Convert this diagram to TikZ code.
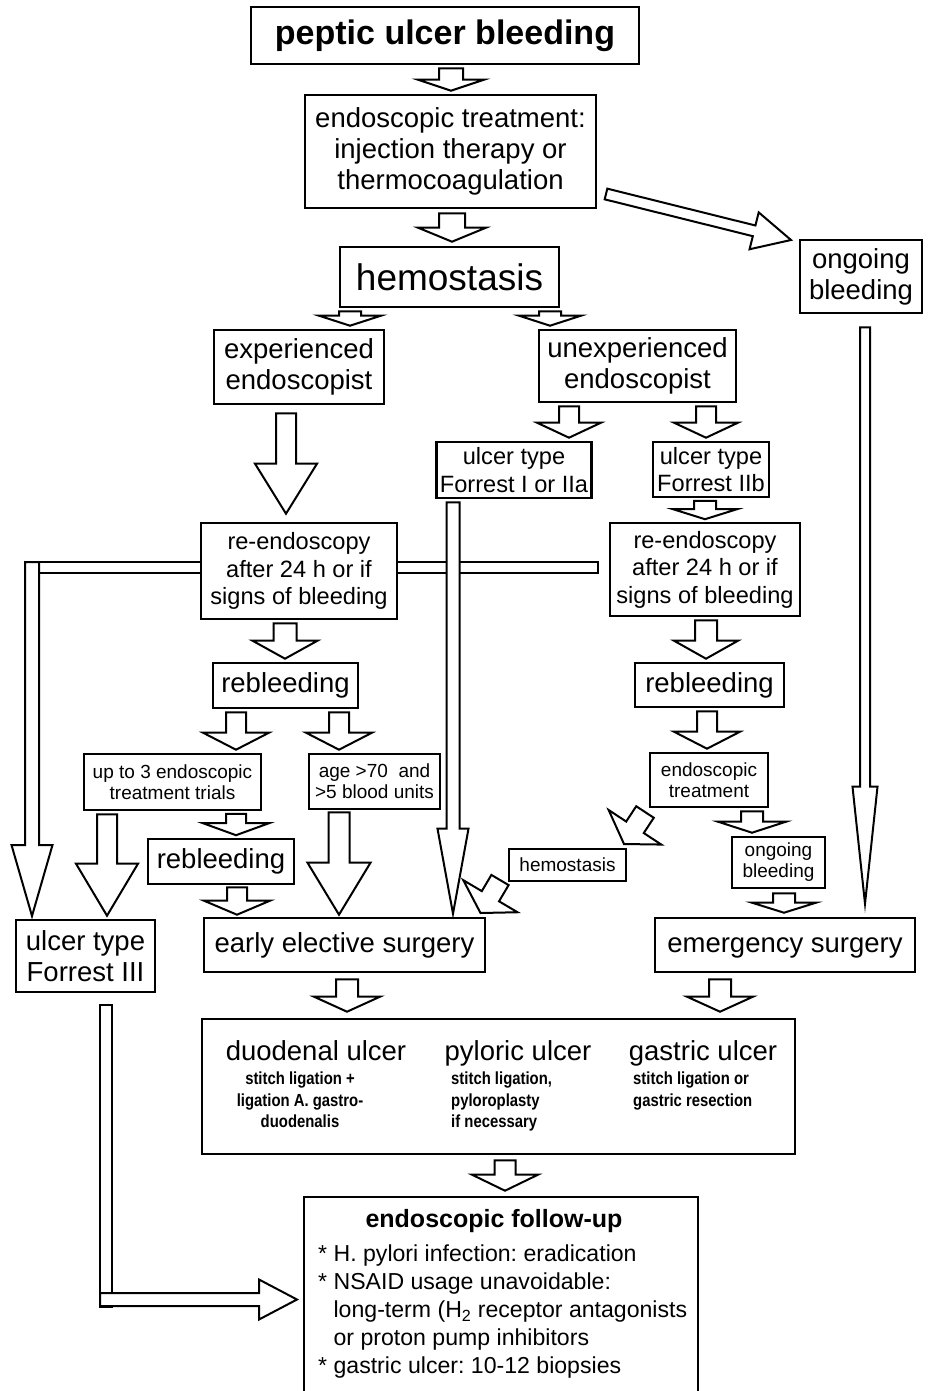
\documentclass[tikz,border=0pt]{standalone}
\usepackage{fontspec}
\setmainfont{Liberation Sans}
\newfontfamily\narrowsans{Liberation Sans}[FakeStretch=0.85]
\usetikzlibrary{calc}

\newcommand{\fhuge}{\fontsize{34}{40}\selectfont\bfseries}
\newcommand{\fhemo}{\fontsize{37}{42}\selectfont}
\newcommand{\fbig}{\fontsize{27.5}{31}\selectfont}
\newcommand{\fmid}{\fontsize{23.6}{27.5}\selectfont}
\newcommand{\fsmall}{\fontsize{19}{21}\selectfont}
\newcommand{\ftiny}{\fontsize{17.5}{21.5}\selectfont\narrowsans\bfseries}
\newcommand{\ffol}{\fontsize{23.1}{28}\selectfont\frenchspacing}
\newcommand{\ffoltit}{\fontsize{25}{30}\selectfont\bfseries}

\tikzset{
  box/.style={draw, line width=2.6pt, fill=white, inner sep=0pt, align=center, font=\fbig},
  fat/.style={draw, line width=2pt, fill=white, line join=miter},
  txt/.style={inner sep=0pt}
}

% hollow block arrow: start, tip, shaft half width, head half width, head length
\newcommand{\fatarrow}[5]{%
  \coordinate (hb) at ($(#2)!#5pt!(#1)$);
  \draw[fat] ($(#1)!#3pt!90:(#2)$) -- ($(hb)!#3pt!90:(#2)$) -- ($(hb)!#4pt!90:(#2)$)
    -- (#2) -- ($(hb)!#4pt!-90:(#2)$) -- ($(hb)!#3pt!-90:(#2)$) -- ($(#1)!#3pt!-90:(#2)$) -- cycle;}

% downward block arrow from one box to the next at a given x
\newcommand{\vfat}[7][3]{%
  \coordinate (vs) at ($(#4,0 |- #2.south)+(0,#1)$);
  \coordinate (vt) at ($(#4,0 |- #3.north)-(0,#1)$);
  \fatarrow{vs}{vt}{#5}{#6}{#7}}

\begin{document}
\begin{tikzpicture}[x=1pt, y=-1pt]
\useasboundingbox (0,0) rectangle (928,1391);

% bar behind the left re-endoscopy box
\coordinate (b1w) at (25,562);
\coordinate (b1e) at (598,573);
\draw[fat] (b1w) rectangle (b1e);

% boxes
\node[box, font=\fhuge, minimum width=388, minimum height=57] (pub) at (445,35.5) {peptic ulcer bleeding};
\node[box, minimum width=291, minimum height=113] (endo) at (450.5,151.5) {endoscopic treatment:\\injection therapy or\\thermocoagulation};
\node[box, font=\fhemo, minimum width=219, minimum height=60] (hemo) at (449.5,277) {hemostasis};
\node[box, minimum width=122, minimum height=73] (ongo) at (861,276.5) {ongoing\\bleeding};
\node[box, minimum width=170, minimum height=74] (exp) at (299,367) {experienced\\endoscopist};
\node[box, minimum width=197, minimum height=72] (unexp) at (637.5,366) {unexperienced\\endoscopist};
\node[box, font=\fmid, minimum width=155, minimum height=56] (ft1) at (514,470) {ulcer type\\Forrest I or IIa};
\node[box, font=\fmid, minimum width=116, minimum height=55] (ft2) at (711,469.5) {ulcer type\\Forrest IIb};
\node[box, font=\fmid, minimum width=196, minimum height=96] (reendo1) at (299,571) {re-endoscopy\\after 24 h or if\\signs of bleeding};
\node[box, font=\fmid, minimum width=190, minimum height=93] (reendo2) at (705,569.5) {re-endoscopy\\after 24 h or if\\signs of bleeding};
\node[box, minimum width=145, minimum height=45] (reb1) at (285.5,685.5) {rebleeding};
\node[box, minimum width=149, minimum height=44] (reb2) at (709.5,685) {rebleeding};
\node[box, font=\fsmall, minimum width=177, minimum height=56] (trials) at (172.5,782) {up to 3 endoscopic\\treatment trials};
\node[box, font=\fsmall, minimum width=131, minimum height=55] (age) at (374.5,781.5) {age >70~ and\\>5 blood units};
\node[box, font=\fsmall, minimum width=118, minimum height=54] (endtr) at (709,780) {endoscopic\\treatment};
\node[box, minimum width=146, minimum height=45] (reb3) at (221,861.5) {rebleeding};
\node[box, font=\fsmall, minimum width=117, minimum height=32] (hemo2) at (567.5,865) {hemostasis};
\node[box, font=\fsmall, minimum width=93, minimum height=51] (ongo2) at (778.5,862.5) {ongoing\\bleeding};
\node[box, minimum width=281, minimum height=54] (early) at (344.5,945) {early elective surgery};
\node[box, minimum width=260, minimum height=54] (emerg) at (785,945) {\vphantom{l}emergency surgery};
\node[box, minimum width=139, minimum height=72] (f3) at (85.5,956) {ulcer type\\Forrest III};
\node[box, minimum width=593, minimum height=135] (proc) at (498.5,1086.5) {};
\node[box, minimum width=394, minimum height=212] (follow) at (501,1303) {};

% operations
\node[txt, anchor=base, font=\fbig] (duo) at (316,1060) {duodenal ulcer};
\node[txt, anchor=north, font=\ftiny, align=center] (duotx) at (300,1072) {stitch ligation +\\ligation A. gastro-\\duodenalis};
\node[txt, anchor=base, font=\fbig] (pyl) at (518,1060) {pyloric ulcer};
\node[txt, anchor=north west, font=\ftiny, align=left] (pyltx) at (451,1072) {stitch ligation,\\pyloroplasty\\if necessary};
\node[txt, anchor=base, font=\fbig] (gas) at (703,1060) {gastric ulcer};
\node[txt, anchor=north west, font=\ftiny, align=left] (gastx) at (633,1072) {stitch ligation or\\gastric resection};

% follow-up
\node[txt, anchor=base, font=\ffoltit] (foltit) at (494,1227) {endoscopic follow-up};
\node[txt, anchor=north west, font=\ffol, align=left] (foltx) at (318,1245) {* H. pylori infection: eradication\\* NSAID usage unavoidable:\\\hphantom{*~}long-term (H\textsubscript{2} receptor antagonists\\\hphantom{*~}or proton pump inhibitors\\* gastric ulcer: 10-12 biopsies};

% arrows
\vfat{pub}{endo}{451}{12}{33}{11}
\vfat[4]{endo}{hemo}{452}{13}{34}{14}
\vfat{hemo}{exp}{350}{11}{31}{10}
\vfat{hemo}{unexp}{550}{11}{31}{10}
\vfat[8]{exp}{reendo1}{286}{10}{31}{50}
\vfat{unexp}{ft1}{569}{10}{32}{15}
\vfat{unexp}{ft2}{706}{10}{32}{15}
\vfat[2.5]{ft2}{reendo2}{705}{11}{32}{10}
\vfat{reendo1}{reb1}{285}{11.5}{32.5}{18}
\vfat{reendo2}{reb2}{706}{11}{32}{18}
\vfat{reb1}{trials}{236}{10}{33}{17}
\vfat{reb1}{age}{339}{10}{33}{17}
\vfat{reb2}{endtr}{707}{10}{33}{17}
\vfat[2.5]{trials}{reb3}{236}{10}{33}{12}
\vfat{trials}{f3}{107}{10}{31}{52}
\vfat[2]{age}{early}{339}{10.5}{31.5}{52}
\vfat[2]{reb3}{early}{237}{10}{33}{14}
\vfat[3]{ft1}{early}{453}{6.5}{15.5}{85}
\vfat[13]{ongo}{emerg}{865}{5}{12.5}{117}
\vfat{endtr}{ongo2}{752}{11}{34}{11}
\vfat[4]{ongo2}{emerg}{784}{11}{32}{10}
\vfat[6]{early}{proc}{347}{11}{33}{15}
\vfat[6]{emerg}{proc}{720}{11}{33}{15}
\vfat[5]{proc}{follow}{505}{10.5}{33}{16}

% slanted arrows
\coordinate (d1s) at (606,194);
\coordinate (d1t) at (791,240);
\fatarrow{d1s}{d1t}{5.5}{19}{38}
\coordinate (d2s) at (645,812);
\coordinate (d2t) at (624,844);
\fatarrow{d2s}{d2t}{10.5}{31.5}{20}
\coordinate (d3s) at (500,880);
\coordinate (d3t) at (480.5,913);
\fatarrow{d3s}{d3t}{10}{31.5}{19.5}

% bent arrows to Forrest III and to follow-up
\coordinate (e1s) at (32,562);
\coordinate (e1t) at (32,916);
\fatarrow{e1s}{e1t}{7}{20.5}{71}
\coordinate (b2n) at (99.5,1005);
\coordinate (b2s) at (111.5,1307);
\draw[fat] (b2n) rectangle (b2s);
\coordinate (e2s) at (100,1299.5);
\coordinate (e2t) at (297,1299.5);
\fatarrow{e2s}{e2t}{6.5}{20}{38}
\end{tikzpicture}
\end{document}
